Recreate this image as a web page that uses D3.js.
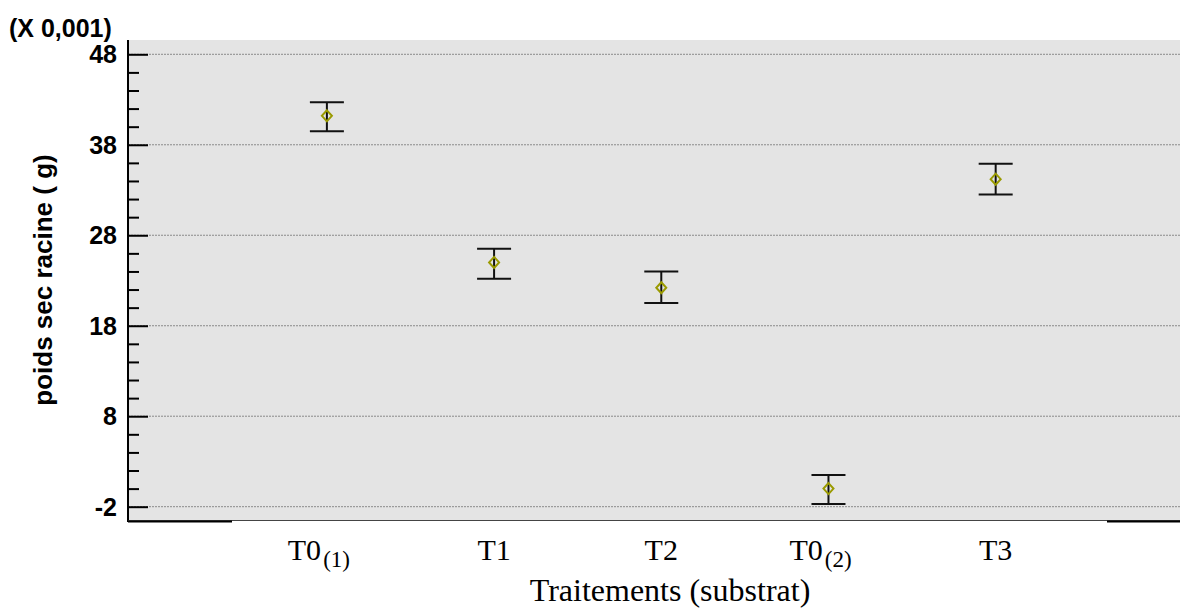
<!DOCTYPE html>
<html>
<head>
<meta charset="utf-8">
<script src="https://cdn.jsdelivr.net/npm/d3@7"></script>
<style>
  body { margin: 0; background: #fff; }
  svg { display: block; }
</style>
</head>
<body>
<div id="chart"></div>
<script>
// data (values in units of 0,001 g)
let categories = ['T0', 'T1', 'T2', 'T0', 'T3']
let subscripts = ['(1)', '', '', '(2)', '']
let means = [41.2, 25.0, 22.2, 0.0, 34.2]
let upper = [42.7, 26.5, 24.0, 1.5, 35.9]
let lower = [39.5, 23.2, 20.5, -1.7, 32.5]
let majorTicks = [-2, 8, 18, 28, 38, 48]

let width = 1180,
    height = 608,
    plotLeft = 128, plotRight = 1180, plotTop = 40, plotBottom = 520

let svg = d3.select('#chart')
  .append('svg')
    .attr('width', width)
    .attr('height', height)

let y = d3.scaleLinear()
  .domain([-3.47, 49.58])
  .range([plotBottom, plotTop])

let keys = categories.map((c, i) => c + subscripts[i])
let x = d3.scalePoint()
  .domain(keys)
  .range([plotLeft, plotRight])
  .padding(1.146)
  .align(0.519)

// plot background
svg.append('rect')
  .attr('x', plotLeft).attr('y', plotTop)
  .attr('width', plotRight - plotLeft).attr('height', plotBottom - plotTop)
  .attr('fill', '#e4e4e4')

// dotted grid lines
svg.selectAll('.grid')
  .data(majorTicks)
  .enter()
  .append('line')
    .attr('x1', plotLeft).attr('x2', plotRight)
    .attr('y1', d => y(d)).attr('y2', d => y(d))
    .attr('stroke', '#8a8a8a')
    .attr('stroke-width', 1)
    .attr('stroke-dasharray', '2,1')

// y axis with major and minor ticks
let yAxis = svg.append('g')
  .attr('transform', `translate(${plotLeft},0)`)
  .call(d3.axisRight(y).tickValues(d3.range(-2, 49, 2)).tickSize(11).tickFormat(''))
yAxis.select('.domain').remove()
yAxis.selectAll('.tick line').attr('stroke', '#000').attr('stroke-width', 2)
yAxis.selectAll('.tick')
  .filter(d => majorTicks.includes(d))
  .select('line').attr('x2', 20)

svg.append('line')
  .attr('x1', plotLeft).attr('x2', plotLeft)
  .attr('y1', plotTop).attr('y2', plotBottom + 2)
  .attr('stroke', '#000').attr('stroke-width', 2)

svg.selectAll('.ylab')
  .data(majorTicks)
  .enter()
  .append('text')
    .attr('x', 117)
    .attr('y', d => y(d))
    .attr('dy', '0.36em')
    .attr('text-anchor', 'end')
    .style('font', 'bold 25px "Liberation Sans", Arial, sans-serif')
    .text(d => d)

svg.append('text')
  .attr('x', 9).attr('y', 37)
  .style('font', 'bold 25px "Liberation Sans", Arial, sans-serif')
  .text('(X 0,001)')

svg.append('text')
  .attr('transform', 'translate(52,280) rotate(-90)')
  .attr('text-anchor', 'middle')
  .style('font', 'bold 26px "Liberation Sans", Arial, sans-serif')
  .text('poids sec racine ( g)')

// bottom border
svg.append('line')
  .attr('x1', plotLeft).attr('x2', plotRight)
  .attr('y1', plotBottom + 0.5).attr('y2', plotBottom + 0.5)
  .attr('stroke', '#444').attr('stroke-width', 1)
svg.append('line')
  .attr('x1', plotLeft).attr('x2', 232)
  .attr('y1', plotBottom + 1.5).attr('y2', plotBottom + 1.5)
  .attr('stroke', '#000').attr('stroke-width', 2)
svg.append('line')
  .attr('x1', 1107).attr('x2', plotRight)
  .attr('y1', plotBottom + 1.5).attr('y2', plotBottom + 1.5)
  .attr('stroke', '#000').attr('stroke-width', 2)

// x labels
let xl = svg.selectAll('.xlab')
  .data(keys)
  .enter()
  .append('text')
    .attr('x', (d, i) => x(d) - (subscripts[i] ? 8 : 0))
    .attr('y', 560)
    .attr('text-anchor', 'middle')
    .style('font', '30px "Liberation Serif", "Times New Roman", serif')
xl.append('tspan').text((d, i) => categories[i])
xl.append('tspan')
  .attr('dx', 2)
  .attr('dy', 7)
  .style('font-size', '23px')
  .text((d, i) => subscripts[i])

svg.append('text')
  .attr('x', 670).attr('y', 601)
  .attr('text-anchor', 'middle')
  .style('font', '32px "Liberation Serif", "Times New Roman", serif')
  .text('Traitements (substrat)')

// error bars
let bars = svg.selectAll('.bar')
  .data(keys)
  .enter()
  .append('g')
    .attr('stroke', '#111')
    .attr('stroke-width', 2)
bars.append('line')
  .attr('x1', d => x(d)).attr('x2', d => x(d))
  .attr('y1', (d, i) => y(upper[i])).attr('y2', (d, i) => y(lower[i]))
bars.append('line')
  .attr('x1', d => x(d) - 17).attr('x2', d => x(d) + 17)
  .attr('y1', (d, i) => y(upper[i])).attr('y2', (d, i) => y(upper[i]))
bars.append('line')
  .attr('x1', d => x(d) - 17).attr('x2', d => x(d) + 17)
  .attr('y1', (d, i) => y(lower[i])).attr('y2', (d, i) => y(lower[i]))

// mean markers
svg.selectAll('.mean')
  .data(keys)
  .enter()
  .append('path')
    .attr('d', (d, i) => {
      let cx = x(d), cy = y(means[i])
      return `M${cx},${cy - 5.5}L${cx + 5},${cy}L${cx},${cy + 5.5}L${cx - 5},${cy}Z`
    })
    .attr('fill', 'none')
    .attr('stroke', '#9a9a00')
    .attr('stroke-width', 2)
</script>
</body>
</html>
